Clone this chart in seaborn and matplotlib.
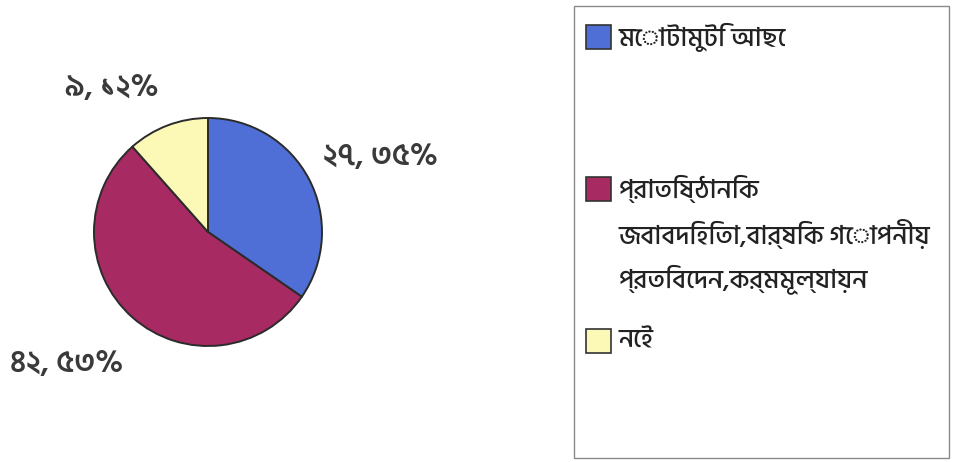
import matplotlib
matplotlib.use("Agg")
import matplotlib.pyplot as plt
from matplotlib.patches import Rectangle
import seaborn as sns

# Survey answers and counts
categories = [
    "মোটামুটি আছে",
    "প্রাতিষ্ঠানিক\nজবাবদিহিতা,বার্ষিক গোপনীয়\nপ্রতিবেদন,কর্মমূল্যায়ন",
    "নেই",
]
counts = [27, 42, 9]
percents = [35, 53, 12]
colors = ["#4f6fd6", "#a72a62", "#fcf8b6"]

sns.set_theme(style="white")
plt.rcParams["font.family"] = ["Hind Siliguri", "DejaVu Sans"]

BN_DIGITS = str.maketrans("0123456789", "০১২৩৪৫৬৭৮৯")


def bn(n):
    return str(n).translate(BN_DIGITS)


W, H = 954, 462
fig = plt.figure(figsize=(W / 100, H / 100), dpi=100)
fig.patch.set_facecolor("white")

# Pixel-based canvas so the pie stays circular
ax = fig.add_axes([0, 0, 1, 1])

cx, cy, r = 208, H - 232, 114
wedges, _ = ax.pie(
    counts,
    colors=colors,
    startangle=90,
    counterclock=False,
    center=(cx, cy),
    radius=r,
    wedgeprops=dict(edgecolor="#2b2b2b", linewidth=1.4),
    frame=True,
)
ax.set_xlim(0, W)
ax.set_ylim(0, H)
ax.set_aspect("equal")
ax.axis("off")

# Data labels: "count, percent%"
label_pos = [(380, H - 157), (67, H - 364), (112, H - 88)]
for (x, y), c, p in zip(label_pos, counts, percents):
    ax.text(x, y, f"{bn(c)}, {bn(p)}%", ha="center", va="center",
            fontsize=22, fontweight="semibold", color="#3a3a3a")

# Legend box
ax.add_patch(Rectangle((574, H - 458), 375, 452, facecolor="white",
                       edgecolor="#8a8a8a", linewidth=1.0))
entry_y = [37, 189, 341]
for col, lab, yy in zip(colors, categories, entry_y):
    ax.add_patch(Rectangle((586, H - yy - 12), 25, 24, facecolor=col,
                           edgecolor="#333333", linewidth=1.2))
    for i, line in enumerate(lab.split("\n")):
        ax.text(619, H - yy - i * 45, line, ha="left", va="center",
                fontsize=19, fontweight="medium", color="#222222")

fig.savefig("out.png", dpi=100, facecolor="white")
